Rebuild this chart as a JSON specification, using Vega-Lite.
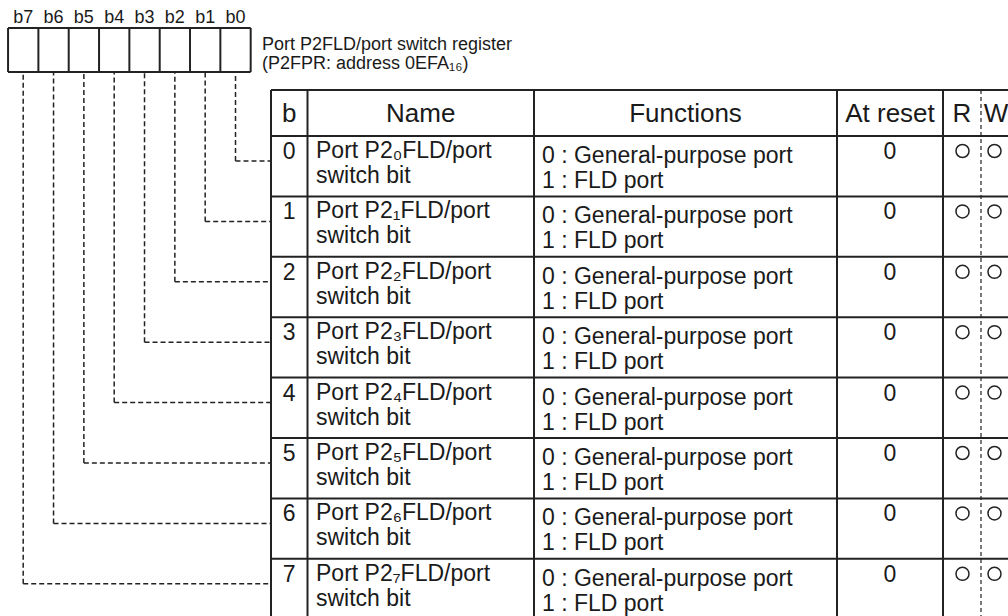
{
  "$schema": "https://vega.github.io/schema/vega-lite/v6.json",
  "width": 1008,
  "height": 616,
  "padding": 0,
  "autosize": {"type": "none"},
  "background": "white",
  "config": {"view": {"stroke": null}, "text": {"font": "Liberation Sans", "color": "#1a1a1a"}},
  "data": {"values": [
    {"bit": 0, "label": "b0", "name": "Port P2₀FLD/port", "name2": "switch bit", "f0": "0 : General-purpose port", "f1": "1 : FLD port", "reset": "0", "r": "O", "w": "O"},
    {"bit": 1, "label": "b1", "name": "Port P2₁FLD/port", "name2": "switch bit", "f0": "0 : General-purpose port", "f1": "1 : FLD port", "reset": "0", "r": "O", "w": "O"},
    {"bit": 2, "label": "b2", "name": "Port P2₂FLD/port", "name2": "switch bit", "f0": "0 : General-purpose port", "f1": "1 : FLD port", "reset": "0", "r": "O", "w": "O"},
    {"bit": 3, "label": "b3", "name": "Port P2₃FLD/port", "name2": "switch bit", "f0": "0 : General-purpose port", "f1": "1 : FLD port", "reset": "0", "r": "O", "w": "O"},
    {"bit": 4, "label": "b4", "name": "Port P2₄FLD/port", "name2": "switch bit", "f0": "0 : General-purpose port", "f1": "1 : FLD port", "reset": "0", "r": "O", "w": "O"},
    {"bit": 5, "label": "b5", "name": "Port P2₅FLD/port", "name2": "switch bit", "f0": "0 : General-purpose port", "f1": "1 : FLD port", "reset": "0", "r": "O", "w": "O"},
    {"bit": 6, "label": "b6", "name": "Port P2₆FLD/port", "name2": "switch bit", "f0": "0 : General-purpose port", "f1": "1 : FLD port", "reset": "0", "r": "O", "w": "O"},
    {"bit": 7, "label": "b7", "name": "Port P2₇FLD/port", "name2": "switch bit", "f0": "0 : General-purpose port", "f1": "1 : FLD port", "reset": "0", "r": "O", "w": "O"}
  ]},
  "resolve": {"scale": {"x": "independent", "y": "independent"}},
  "layer": [
    {
      "mark": {"type": "rule", "stroke": "#222", "strokeWidth": 2, "xOffset": -15.15},
      "encoding": {
        "x": {"field": "bit", "type": "quantitative", "scale": {"domain": [7.765, -25.47], "nice": false, "zero": false}, "axis": null},
        "y": {"datum": 28, "type": "quantitative", "scale": {"domain": [0, 616], "reverse": true, "nice": false, "zero": false}, "axis": null},
        "y2": {"datum": 72}
      }
    },
    {
      "data": {"values": [{}]},
      "mark": {"type": "rule", "stroke": "#222", "strokeWidth": 2},
      "encoding": {
        "x": {"datum": -0.5, "type": "quantitative", "scale": {"domain": [7.765, -25.47], "nice": false, "zero": false}, "axis": null},
        "y": {"datum": 28, "type": "quantitative", "scale": {"domain": [0, 616], "reverse": true, "nice": false, "zero": false}, "axis": null},
        "y2": {"datum": 72}
      }
    },
    {
      "data": {"values": [{}]},
      "mark": {"type": "rule", "stroke": "#222", "strokeWidth": 2},
      "encoding": {
        "x": {"datum": 7.5, "type": "quantitative", "scale": {"domain": [7.765, -25.47], "nice": false, "zero": false}, "axis": null},
        "x2": {"datum": -0.5},
        "y": {"datum": 28, "type": "quantitative", "scale": {"domain": [0, 616], "reverse": true, "nice": false, "zero": false}, "axis": null}
      }
    },
    {
      "data": {"values": [{}]},
      "mark": {"type": "rule", "stroke": "#222", "strokeWidth": 2},
      "encoding": {
        "x": {"datum": 7.5, "type": "quantitative", "scale": {"domain": [7.765, -25.47], "nice": false, "zero": false}, "axis": null},
        "x2": {"datum": -0.5},
        "y": {"datum": 72, "type": "quantitative", "scale": {"domain": [0, 616], "reverse": true, "nice": false, "zero": false}, "axis": null}
      }
    },
    {
      "mark": {"type": "text", "fontSize": 18, "baseline": "alphabetic", "align": "center"},
      "encoding": {
        "x": {"field": "bit", "type": "quantitative", "scale": {"domain": [7.765, -25.47], "nice": false, "zero": false}, "axis": null},
        "y": {"datum": 23, "type": "quantitative", "scale": {"domain": [0, 616], "reverse": true, "nice": false, "zero": false}, "axis": null},
        "text": {"field": "label", "type": "nominal"}
      }
    },
    {
      "mark": {"type": "rule", "stroke": "#222", "strokeWidth": 1.5, "strokeDash": [5, 3], "yOffset": 25},
      "encoding": {
        "x": {"field": "bit", "type": "quantitative", "scale": {"domain": [7.765, -25.47], "nice": false, "zero": false}, "axis": null},
        "y": {"field": "bit", "type": "quantitative", "scale": {"domain": [-2.2517, 7.947], "reverse": true, "nice": false, "zero": false}, "axis": null},
        "y2": {"datum": -1.0596}
      }
    },
    {
      "mark": {"type": "rule", "stroke": "#222", "strokeWidth": 1.5, "strokeDash": [5, 3], "yOffset": 25},
      "encoding": {
        "x": {"field": "bit", "type": "quantitative", "scale": {"domain": [7.765, -25.47], "nice": false, "zero": false}, "axis": null},
        "x2": {"datum": -1.1705},
        "y": {"field": "bit", "type": "quantitative", "scale": {"domain": [-2.2517, 7.947], "reverse": true, "nice": false, "zero": false}, "axis": null}
      }
    },
    {
      "mark": {"type": "rule", "stroke": "#222", "strokeWidth": 2},
      "encoding": {
        "x": {"datum": 271, "type": "quantitative", "scale": {"domain": [0, 1008], "nice": false, "zero": false}, "axis": null},
        "x2": {"datum": 1008},
        "y": {"field": "bit", "type": "quantitative", "scale": {"domain": [-2.2517, 7.947], "reverse": true, "nice": false, "zero": false}, "axis": null}
      }
    },
    {
      "data": {"values": [{}]},
      "mark": {"type": "rule", "stroke": "#222", "strokeWidth": 2},
      "encoding": {
        "x": {"datum": 271, "type": "quantitative", "scale": {"domain": [0, 1008], "nice": false, "zero": false}, "axis": null},
        "x2": {"datum": 1008},
        "y": {"datum": 90, "type": "quantitative", "scale": {"domain": [0, 616], "reverse": true, "nice": false, "zero": false}, "axis": null}
      }
    },
    {
      "data": {"values": [{}]},
      "mark": {"type": "rule", "stroke": "#222", "strokeWidth": 2},
      "encoding": {
        "x": {"datum": 271, "type": "quantitative", "scale": {"domain": [0, 1008], "nice": false, "zero": false}, "axis": null},
        "y": {"datum": 90, "type": "quantitative", "scale": {"domain": [0, 616], "reverse": true, "nice": false, "zero": false}, "axis": null},
        "y2": {"datum": 616}
      }
    },
    {
      "data": {"values": [{}]},
      "mark": {"type": "rule", "stroke": "#222", "strokeWidth": 2},
      "encoding": {
        "x": {"datum": 307.5, "type": "quantitative", "scale": {"domain": [0, 1008], "nice": false, "zero": false}, "axis": null},
        "y": {"datum": 90, "type": "quantitative", "scale": {"domain": [0, 616], "reverse": true, "nice": false, "zero": false}, "axis": null},
        "y2": {"datum": 616}
      }
    },
    {
      "data": {"values": [{}]},
      "mark": {"type": "rule", "stroke": "#222", "strokeWidth": 2},
      "encoding": {
        "x": {"datum": 534, "type": "quantitative", "scale": {"domain": [0, 1008], "nice": false, "zero": false}, "axis": null},
        "y": {"datum": 90, "type": "quantitative", "scale": {"domain": [0, 616], "reverse": true, "nice": false, "zero": false}, "axis": null},
        "y2": {"datum": 616}
      }
    },
    {
      "data": {"values": [{}]},
      "mark": {"type": "rule", "stroke": "#222", "strokeWidth": 2},
      "encoding": {
        "x": {"datum": 837, "type": "quantitative", "scale": {"domain": [0, 1008], "nice": false, "zero": false}, "axis": null},
        "y": {"datum": 90, "type": "quantitative", "scale": {"domain": [0, 616], "reverse": true, "nice": false, "zero": false}, "axis": null},
        "y2": {"datum": 616}
      }
    },
    {
      "data": {"values": [{}]},
      "mark": {"type": "rule", "stroke": "#222", "strokeWidth": 2},
      "encoding": {
        "x": {"datum": 943, "type": "quantitative", "scale": {"domain": [0, 1008], "nice": false, "zero": false}, "axis": null},
        "y": {"datum": 90, "type": "quantitative", "scale": {"domain": [0, 616], "reverse": true, "nice": false, "zero": false}, "axis": null},
        "y2": {"datum": 616}
      }
    },
    {
      "data": {"values": [{}]},
      "mark": {"type": "rule", "stroke": "#222", "strokeWidth": 1.2, "strokeDash": [4, 3]},
      "encoding": {
        "x": {"datum": 981, "type": "quantitative", "scale": {"domain": [0, 1008], "nice": false, "zero": false}, "axis": null},
        "y": {"datum": 90, "type": "quantitative", "scale": {"domain": [0, 616], "reverse": true, "nice": false, "zero": false}, "axis": null},
        "y2": {"datum": 616}
      }
    },
    {
      "data": {"values": [{}]},
      "mark": {"type": "text", "fontSize": 26, "baseline": "alphabetic", "align": "center", "text": "b"},
      "encoding": {
        "x": {"datum": 289.25, "type": "quantitative", "scale": {"domain": [0, 1008], "nice": false, "zero": false}, "axis": null},
        "y": {"datum": 122, "type": "quantitative", "scale": {"domain": [0, 616], "reverse": true, "nice": false, "zero": false}, "axis": null}
      }
    },
    {
      "data": {"values": [{}]},
      "mark": {"type": "text", "fontSize": 26, "baseline": "alphabetic", "align": "center", "text": "Name"},
      "encoding": {
        "x": {"datum": 420.75, "type": "quantitative", "scale": {"domain": [0, 1008], "nice": false, "zero": false}, "axis": null},
        "y": {"datum": 122, "type": "quantitative", "scale": {"domain": [0, 616], "reverse": true, "nice": false, "zero": false}, "axis": null}
      }
    },
    {
      "data": {"values": [{}]},
      "mark": {"type": "text", "fontSize": 26, "baseline": "alphabetic", "align": "center", "text": "Functions"},
      "encoding": {
        "x": {"datum": 685.5, "type": "quantitative", "scale": {"domain": [0, 1008], "nice": false, "zero": false}, "axis": null},
        "y": {"datum": 122, "type": "quantitative", "scale": {"domain": [0, 616], "reverse": true, "nice": false, "zero": false}, "axis": null}
      }
    },
    {
      "data": {"values": [{}]},
      "mark": {"type": "text", "fontSize": 26, "baseline": "alphabetic", "align": "center", "text": "At reset"},
      "encoding": {
        "x": {"datum": 890, "type": "quantitative", "scale": {"domain": [0, 1008], "nice": false, "zero": false}, "axis": null},
        "y": {"datum": 122, "type": "quantitative", "scale": {"domain": [0, 616], "reverse": true, "nice": false, "zero": false}, "axis": null}
      }
    },
    {
      "data": {"values": [{}]},
      "mark": {"type": "text", "fontSize": 26, "baseline": "alphabetic", "align": "center", "text": "R"},
      "encoding": {
        "x": {"datum": 962, "type": "quantitative", "scale": {"domain": [0, 1008], "nice": false, "zero": false}, "axis": null},
        "y": {"datum": 122, "type": "quantitative", "scale": {"domain": [0, 616], "reverse": true, "nice": false, "zero": false}, "axis": null}
      }
    },
    {
      "data": {"values": [{}]},
      "mark": {"type": "text", "fontSize": 26, "baseline": "alphabetic", "align": "center", "text": "W"},
      "encoding": {
        "x": {"datum": 996, "type": "quantitative", "scale": {"domain": [0, 1008], "nice": false, "zero": false}, "axis": null},
        "y": {"datum": 122, "type": "quantitative", "scale": {"domain": [0, 616], "reverse": true, "nice": false, "zero": false}, "axis": null}
      }
    },
    {
      "data": {"values": [{}]},
      "mark": {"type": "text", "fontSize": 18, "baseline": "alphabetic", "align": "left", "text": "Port P2FLD/port switch register"},
      "encoding": {
        "x": {"datum": 262, "type": "quantitative", "scale": {"domain": [0, 1008], "nice": false, "zero": false}, "axis": null},
        "y": {"datum": 50, "type": "quantitative", "scale": {"domain": [0, 616], "reverse": true, "nice": false, "zero": false}, "axis": null}
      }
    },
    {
      "data": {"values": [{}]},
      "mark": {"type": "text", "fontSize": 18, "baseline": "alphabetic", "align": "left", "text": "(P2FPR: address 0EFA₁₆)"},
      "encoding": {
        "x": {"datum": 262, "type": "quantitative", "scale": {"domain": [0, 1008], "nice": false, "zero": false}, "axis": null},
        "y": {"datum": 68.5, "type": "quantitative", "scale": {"domain": [0, 616], "reverse": true, "nice": false, "zero": false}, "axis": null}
      }
    },
    {
      "mark": {"type": "text", "fontSize": 23, "baseline": "alphabetic", "align": "center", "yOffset": 23},
      "encoding": {
        "x": {"datum": 289.25, "type": "quantitative", "scale": {"domain": [0, 1008], "nice": false, "zero": false}, "axis": null},
        "y": {"field": "bit", "type": "quantitative", "scale": {"domain": [-2.2517, 7.947], "reverse": true, "nice": false, "zero": false}, "axis": null},
        "text": {"field": "bit", "type": "nominal"}
      }
    },
    {
      "mark": {"type": "text", "fontSize": 23, "baseline": "alphabetic", "align": "left", "yOffset": 22},
      "encoding": {
        "x": {"datum": 316, "type": "quantitative", "scale": {"domain": [0, 1008], "nice": false, "zero": false}, "axis": null},
        "y": {"field": "bit", "type": "quantitative", "scale": {"domain": [-2.2517, 7.947], "reverse": true, "nice": false, "zero": false}, "axis": null},
        "text": {"field": "name", "type": "nominal"}
      }
    },
    {
      "mark": {"type": "text", "fontSize": 23, "baseline": "alphabetic", "align": "left", "yOffset": 47},
      "encoding": {
        "x": {"datum": 316, "type": "quantitative", "scale": {"domain": [0, 1008], "nice": false, "zero": false}, "axis": null},
        "y": {"field": "bit", "type": "quantitative", "scale": {"domain": [-2.2517, 7.947], "reverse": true, "nice": false, "zero": false}, "axis": null},
        "text": {"field": "name2", "type": "nominal"}
      }
    },
    {
      "mark": {"type": "text", "fontSize": 23, "baseline": "alphabetic", "align": "left", "yOffset": 27},
      "encoding": {
        "x": {"datum": 542, "type": "quantitative", "scale": {"domain": [0, 1008], "nice": false, "zero": false}, "axis": null},
        "y": {"field": "bit", "type": "quantitative", "scale": {"domain": [-2.2517, 7.947], "reverse": true, "nice": false, "zero": false}, "axis": null},
        "text": {"field": "f0", "type": "nominal"}
      }
    },
    {
      "mark": {"type": "text", "fontSize": 23, "baseline": "alphabetic", "align": "left", "yOffset": 52},
      "encoding": {
        "x": {"datum": 542, "type": "quantitative", "scale": {"domain": [0, 1008], "nice": false, "zero": false}, "axis": null},
        "y": {"field": "bit", "type": "quantitative", "scale": {"domain": [-2.2517, 7.947], "reverse": true, "nice": false, "zero": false}, "axis": null},
        "text": {"field": "f1", "type": "nominal"}
      }
    },
    {
      "mark": {"type": "text", "fontSize": 23, "baseline": "alphabetic", "align": "center", "yOffset": 23},
      "encoding": {
        "x": {"datum": 890, "type": "quantitative", "scale": {"domain": [0, 1008], "nice": false, "zero": false}, "axis": null},
        "y": {"field": "bit", "type": "quantitative", "scale": {"domain": [-2.2517, 7.947], "reverse": true, "nice": false, "zero": false}, "axis": null},
        "text": {"field": "reset", "type": "nominal"}
      }
    },
    {
      "mark": {"type": "point", "shape": "circle", "filled": false, "size": 170, "stroke": "#222", "strokeWidth": 1.5, "opacity": 1, "yOffset": 15},
      "encoding": {
        "x": {"datum": 962.5, "type": "quantitative", "scale": {"domain": [0, 1008], "nice": false, "zero": false}, "axis": null},
        "y": {"field": "bit", "type": "quantitative", "scale": {"domain": [-2.2517, 7.947], "reverse": true, "nice": false, "zero": false}, "axis": null}
      }
    },
    {
      "mark": {"type": "point", "shape": "circle", "filled": false, "size": 170, "stroke": "#222", "strokeWidth": 1.5, "opacity": 1, "yOffset": 15},
      "encoding": {
        "x": {"datum": 994.5, "type": "quantitative", "scale": {"domain": [0, 1008], "nice": false, "zero": false}, "axis": null},
        "y": {"field": "bit", "type": "quantitative", "scale": {"domain": [-2.2517, 7.947], "reverse": true, "nice": false, "zero": false}, "axis": null}
      }
    }
  ]
}
